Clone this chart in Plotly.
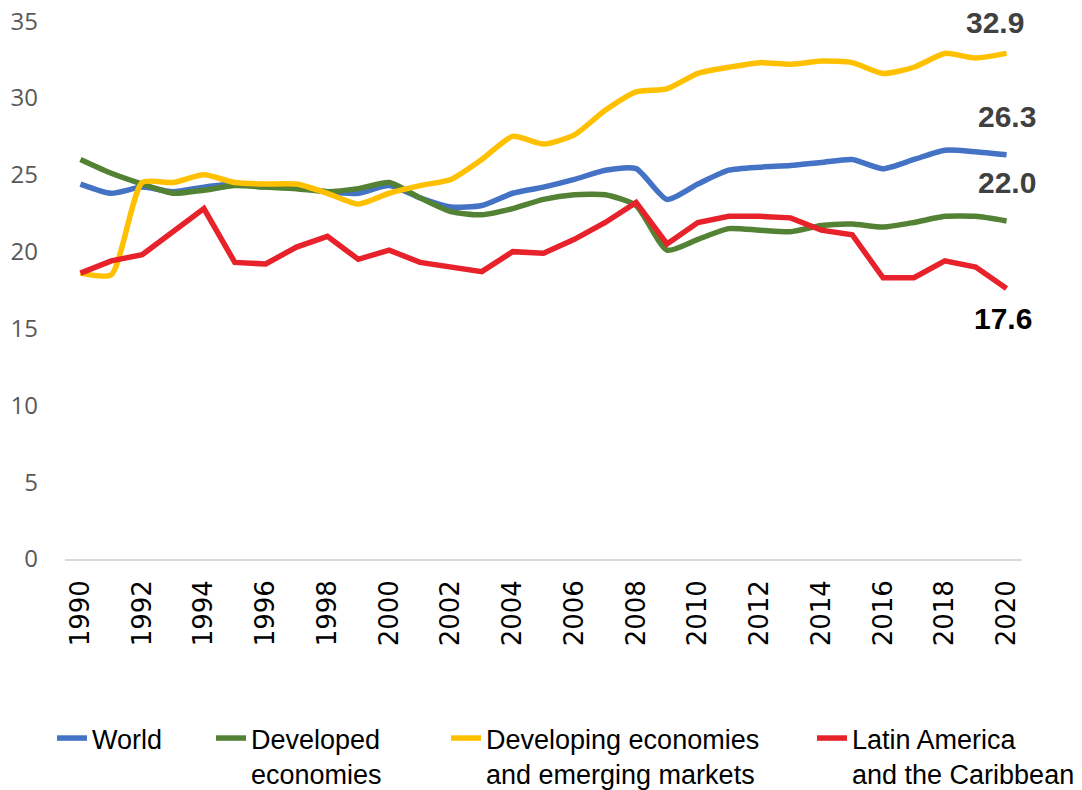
import plotly.graph_objects as go

years = list(range(1990, 2021))

world = [24.4, 23.8, 24.2, 23.9, 24.2, 24.4, 24.2, 24.2, 23.9, 23.8, 24.3,
         23.5, 22.9, 23.0, 23.8, 24.2, 24.7, 25.3, 25.4, 23.4, 24.4,
         25.3, 25.5, 25.6, 25.8, 26.0, 25.4, 26.0, 26.6, 26.5, 26.3]

developed = [26.0, 25.1, 24.4, 23.8, 24.0, 24.3, 24.2, 24.1, 23.9, 24.1, 24.5,
             23.5, 22.6, 22.4, 22.8, 23.4, 23.7, 23.7, 23.0, 20.1, 20.8,
             21.5, 21.4, 21.3, 21.7, 21.8, 21.6, 21.9, 22.3, 22.3, 22.0]

developing = [18.6, 18.5, 24.5, 24.5, 25.0, 24.5, 24.4, 24.4, 23.8, 23.1, 23.8,
              24.3, 24.7, 26.0, 27.5, 27.0, 27.6, 29.2, 30.4, 30.6, 31.6,
              32.0, 32.3, 32.2, 32.4, 32.3, 31.6, 32.0, 32.9, 32.6, 32.9]

latam = [18.6, 19.4, 19.8, 21.3, 22.8, 19.3, 19.2, 20.3, 21.0, 19.5, 20.1,
         19.3, 19.0, 18.7, 20.0, 19.9, 20.8, 21.9, 23.2, 20.5, 21.9,
         22.3, 22.3, 22.2, 21.4, 21.1, 18.3, 18.3, 19.4, 19.0, 17.6]

series_names = ["World", "Developed<br>economies",
                "Developing economies<br>and emerging markets",
                "Latin America<br>and the Caribbean"]

colors = ["#4472C4", "#548235", "#FFC000", "#E8222A"]
shapes = ["spline", "spline", "spline", "linear"]
data = [world, developed, developing, latam]
legend_ids = ["legend", "legend2", "legend3", "legend4"]
legend_x_px = [44, 203, 438, 804]

FONT = "Liberation Sans Narrow, Liberation Sans, Arial, sans-serif"

fig = go.Figure()
for name, vals, col, shp, lid in zip(series_names, data, colors, shapes, legend_ids):
    fig.add_trace(go.Scatter(
        x=years, y=vals, name=name, mode="lines", legend=lid,
        line=dict(color=col, width=5.5, shape=shp, smoothing=0.6),
    ))

# end-value labels
label_style = [
    (world, "26.3", 0, 38, "#404040"),
    (developed, "22.0", 0, 38, "#404040"),
    (developing, "32.9", -12, 31, "#404040"),
    (latam, "17.6", -4, -30, "#000000"),
]
for vals, txt, xs, ys, c in label_style:
    fig.add_annotation(
        x=years[-1], y=vals[-1], text=f"<b>{txt}</b>", showarrow=False,
        xshift=xs, yshift=ys, xref="x", yref="y",
        font=dict(family=FONT, size=30, color=c),
    )

W, H = 1082, 790
legend_layout = {}
for lid, xp in zip(legend_ids, legend_x_px):
    legend_layout[lid] = dict(
        orientation="h", xref="container", yref="container",
        x=xp / W, y=1 - 706 / H, xanchor="left", yanchor="top",
        valign="top", bgcolor="rgba(0,0,0,0)",
        font=dict(family=FONT, size=27, color="#000000"),
    )

fig.update_layout(
    width=W, height=H,
    margin=dict(l=57, r=68, t=13, b=239, autoexpand=False),
    plot_bgcolor="white", paper_bgcolor="white",
    showlegend=True,
    xaxis=dict(
        range=[1989.5, 2020.5], tickmode="array", tickvals=years[::2],
        ticktext=[str(y) for y in years[::2]],
        tickangle=-90, showgrid=False, zeroline=False,
        showline=True, linecolor="#D9D9D9", linewidth=1.5,
        ticks="", ticklabelstandoff=9, automargin=False,
        tickfont=dict(family="DejaVu Sans, sans-serif", size=26, color="#000000"),
    ),
    yaxis=dict(
        range=[0, 35.01], tickvals=[0, 5, 10, 15, 20, 25, 30, 35],
        showgrid=False, zeroline=False, showline=False, ticks="",
        ticklabelstandoff=26, automargin=False, ticklabeloverflow="allow",
        tickfont=dict(family="Open Sans, sans-serif", size=24, color="#595959"),
    ),
    **legend_layout,
)

fig.write_html("out.html")
